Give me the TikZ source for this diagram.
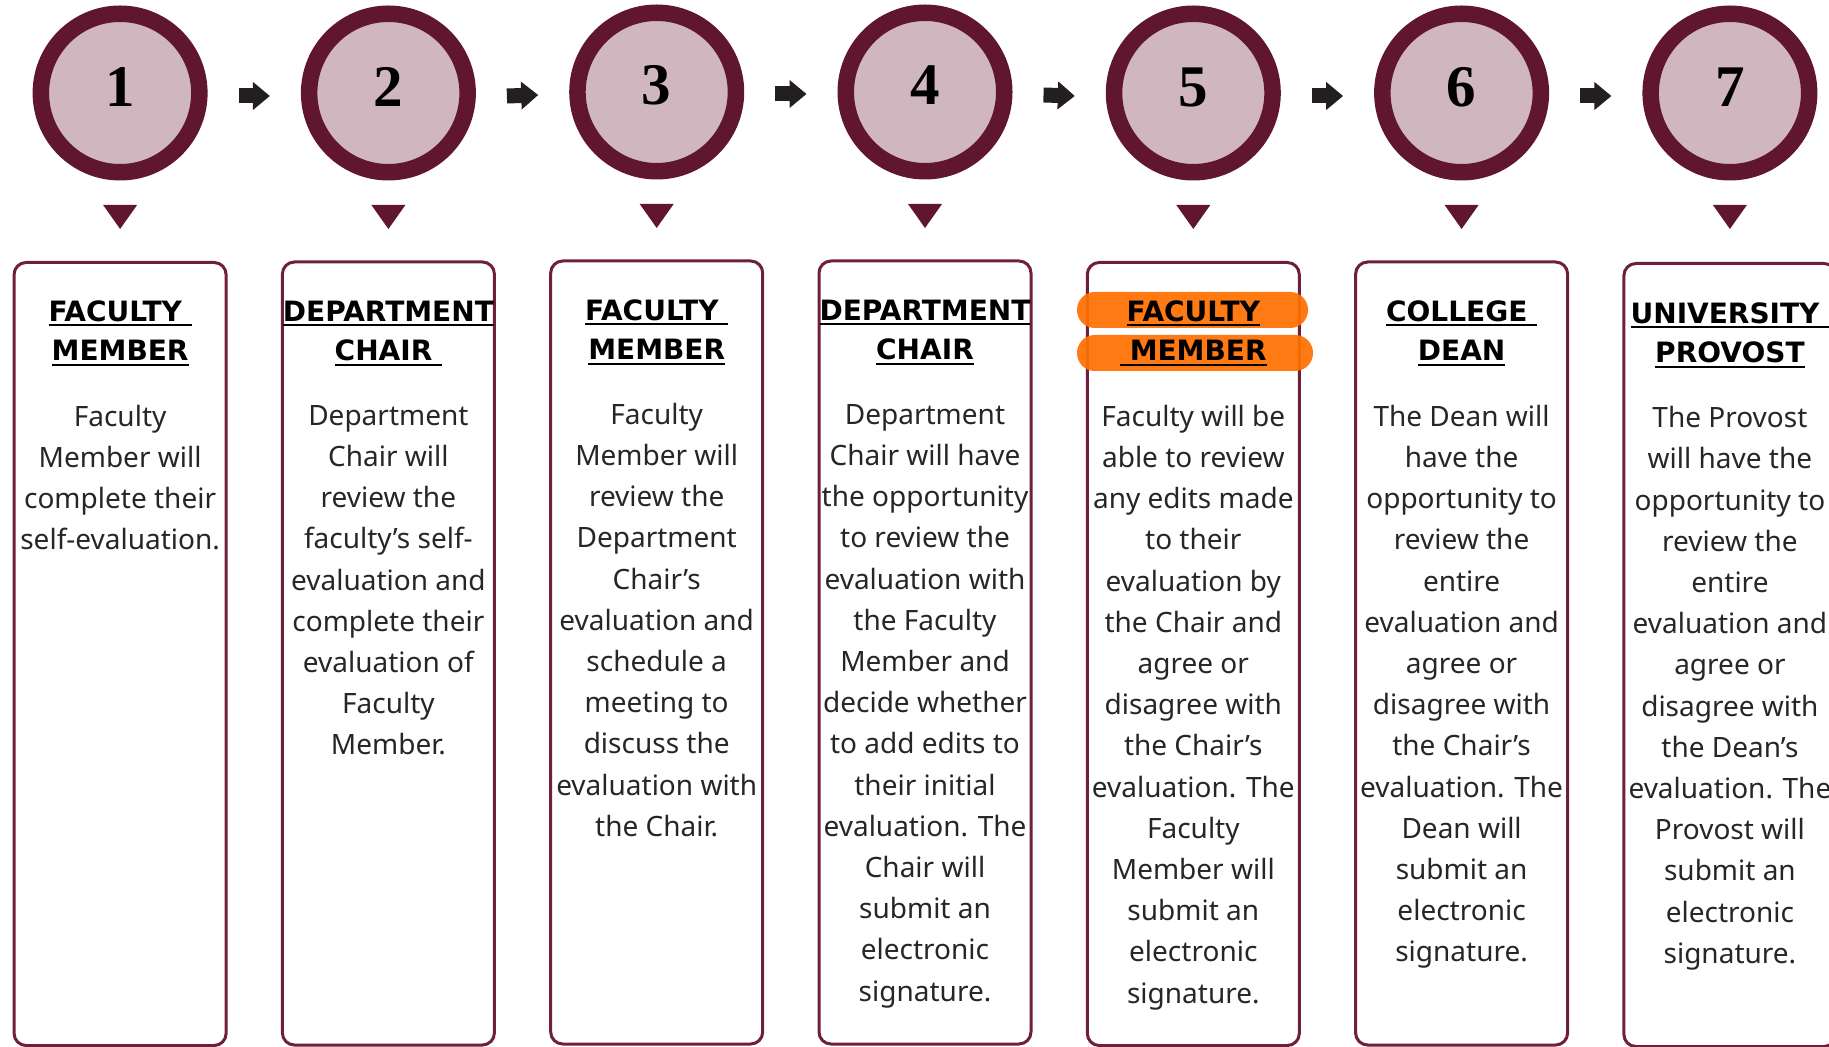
\documentclass[tikz,border=0pt]{standalone}
\usepackage{fontspec}
\setmainfont{Noto Sans}
\newfontfamily\hdrfont{DejaVu Sans}
\newfontfamily\numfont{Liberation Serif}
\usetikzlibrary{arrows.meta}
\definecolor{ring}{HTML}{611630}
\definecolor{ringfill}{HTML}{D0B6BF}
\definecolor{boxline}{HTML}{6E1F3C}
\definecolor{hl}{HTML}{FF7000}
\definecolor{txt}{HTML}{262626}
\definecolor{arr}{HTML}{231F20}
\newcommand\hdr[1]{\setbox0\hbox{#1}\rlap{\rule[-2.6pt]{\wd0}{1pt}}\box0}
\begin{document}
\begin{tikzpicture}[x=0.5pt,y=-0.5pt,
  ringc/.style={circle,minimum size=79.25pt,inner sep=0pt,draw=ring,line width=8.25pt,fill=ringfill},
  num/.style={anchor=base,inner sep=0pt,text=black,font=\numfont\bfseries\fontsize{29.5}{30}\selectfont},
  flow/.style={draw=arr,line width=7.5pt,-{Triangle[length=8.5pt,width=13.5pt]}},
  pointer/.style={fill=ring},
  stepbox/.style={draw=boxline,line width=1.5pt,rounded corners=6pt,minimum width=106pt,minimum height=391.5pt,inner sep=0pt},
  head/.style={anchor=north,inner sep=0pt,align=center,text=black,font=\hdrfont\bfseries\fontsize{14}{19.85}\selectfont},
  body/.style={anchor=north,inner sep=0pt,align=center,text=txt,font=\fontsize{14}{20.6}\selectfont},
  pill/.style={fill=hl,fill opacity=0.93,rounded corners=8.9pt}
]
\useasboundingbox (0,0) rectangle (1829,1047);
% circles
\node[ringc] (c1) at (120.1,93) {};
\node[ringc] (c2) at (388.4,93) {};
\node[ringc] (c3) at (656.7,92) {};
\node[ringc] (c4) at (925.0,92) {};
\node[ringc] (c5) at (1193.3,93) {};
\node[ringc] (c6) at (1461.6,93) {};
\node[ringc] (c7) at (1729.9,93) {};
\node[num] (n1) at (120.1,107) {1};
\node[num] (n2) at (388.4,107) {2};
\node[num] (n3) at (656.7,105) {3};
\node[num] (n4) at (925.0,105) {4};
\node[num] (n5) at (1193.3,107) {5};
\node[num] (n6) at (1461.6,107) {6};
\node[num] (n7) at (1729.9,107) {7};
% arrows between circles
\draw[flow] ([xshift=15.5pt,yshift=-1.5pt]c1.east) -- ([xshift=-15.5pt,yshift=-1.5pt]c2.west);
\draw[flow] ([xshift=15.5pt,yshift=-1.5pt]c2.east) -- ([xshift=-15.5pt,yshift=-1.5pt]c3.west);
\draw[flow] ([xshift=15.5pt,yshift=-1pt]c3.east) -- ([xshift=-15.5pt,yshift=-1pt]c4.west);
\draw[flow] ([xshift=15.5pt,yshift=-1.5pt]c4.east) -- ([xshift=-15.5pt,yshift=-1.5pt]c5.west);
\draw[flow] ([xshift=15.5pt,yshift=-1.5pt]c5.east) -- ([xshift=-15.5pt,yshift=-1.5pt]c6.west);
\draw[flow] ([xshift=15.5pt,yshift=-1.5pt]c6.east) -- ([xshift=-15.5pt,yshift=-1.5pt]c7.west);
% pointers
\foreach \c in {c1,c2,c3,c4,c5,c6,c7}{
  \fill[pointer] ([shift={(-17,112)}]\c.center) -- ++(34,0) -- ++(-17,24) -- cycle;
}
% boxes
\node[stepbox] (b1) at (120.1,654) {};
\node[stepbox] (b2) at (388.4,653.5) {};
\node[stepbox] (b3) at (656.7,652.5) {};
\node[stepbox] (b4) at (925.0,652.5) {};
\node[stepbox] (b5) at (1193.3,654) {};
\node[stepbox] (b6) at (1461.6,653.5) {};
\node[stepbox] (b7) at (1729.9,655) {};
% highlight pills
\fill[pill] (1077,292) rectangle (1308,328);
\fill[pill] (1077,335) rectangle (1313,371);
% headers
\node[head] (h1) at (120.1,293) {\strut\hdr{FACULTY\ }\\\hdr{MEMBER}};
\node[head] (h2) at (388.4,293) {\strut\hdr{DEPARTMENT}\\\hdr{CHAIR\ }};
\node[head] (h3) at (656.7,292) {\strut\hdr{FACULTY\ }\\\hdr{MEMBER}};
\node[head] (h4) at (925.0,292) {\strut\hdr{DEPARTMENT}\\\hdr{CHAIR}};
\node[head] (h5) at (1193.3,293) {\strut\hdr{FACULTY}\\\hdr{\ MEMBER}};
\node[head] (h6) at (1461.6,293) {\strut\hdr{COLLEGE\ }\\\hdr{DEAN}};
\node[head] (h7) at (1729.9,295) {\strut\hdr{UNIVERSITY\ }\\\hdr{PROVOST}};
% body texts
\node[body] (t1) at (120.1,397) {\strut Faculty\\Member will\\complete their\\self-evaluation.};
\node[body] (t2) at (388.4,396) {\strut Department\\Chair will\\review the\\faculty’s self-\\evaluation and\\complete their\\evaluation of\\Faculty\\Member.};
\node[body] (t3) at (656.7,395) {\strut Faculty\\Member will\\review the\\Department\\Chair’s\\evaluation and\\schedule a\\meeting to\\discuss the\\evaluation with\\the Chair.};
\node[body] (t4) at (925.0,395) {\strut Department\\Chair will have\\the opportunity\\to review the\\evaluation with\\the Faculty\\Member and\\decide whether\\to add edits to\\their initial\\evaluation. The\\Chair will\\submit an\\electronic\\signature.};
\node[body] (t5) at (1193.3,397) {\strut Faculty will be\\able to review\\any edits made\\to their\\evaluation by\\the Chair and\\agree or\\disagree with\\the Chair’s\\evaluation. The\\Faculty\\Member will\\submit an\\electronic\\signature.};
\node[body] (t6) at (1461.6,397) {\strut The Dean will\\have the\\opportunity to\\review the\\entire\\evaluation and\\agree or\\disagree with\\the Chair’s\\evaluation. The\\Dean will\\submit an\\electronic\\signature.};
\node[body] (t7) at (1729.9,398.5) {\strut The Provost\\will have the\\opportunity to\\review the\\entire\\evaluation and\\agree or\\disagree with\\the Dean’s\\evaluation. The\\Provost will\\submit an\\electronic\\signature.};
\end{tikzpicture}
\end{document}
